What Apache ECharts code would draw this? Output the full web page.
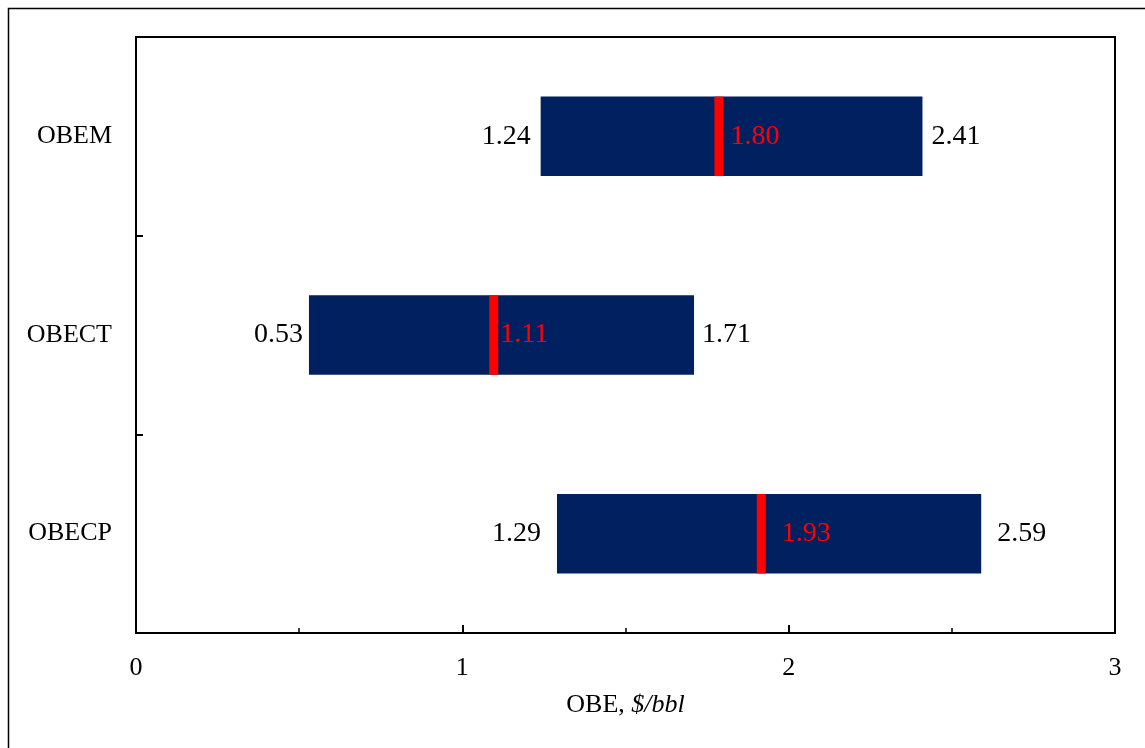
<!DOCTYPE html>
<html>
<head>
<meta charset="utf-8">
<script src="https://cdn.jsdelivr.net/npm/echarts@6/dist/echarts.min.js"></script>
<style>
html,body{margin:0;padding:0;background:#fff;}
#chart{width:1145px;height:748px;}
</style>
</head>
<body>
<div id="chart"></div>
<script>
const categories = ['OBEM', 'OBECT', 'OBECP'];
const minValues = [1.24, 0.53, 1.29];
const medianValues = [1.80, 1.11, 1.93];
const maxValues = [2.41, 1.71, 2.59];
const xTicks = [0, 1, 2, 3];

// label spacing (layout only, pixels)
const minLabelGap = [10, 6, 16];
const maxLabelGap = [9, 8, 16];
const medLabelGap = [7, 2, 16];

const FONT = '"Liberation Serif", "Times New Roman", serif';
const NAVY = '#002060';
const RED = '#FF0000';

const seriesData = categories.map((c, i) => [i, minValues[i], medianValues[i], maxValues[i]]);

const chart = echarts.init(document.getElementById('chart'), null, {renderer: 'canvas'});

chart.setOption({
  animation: false,
  backgroundColor: '#fff',
  graphic: [{
    type: 'rect', silent: true, z: 100,
    shape: {x: 8.5, y: 8.5, width: 1200, height: 800},
    style: {fill: 'none', stroke: '#000', lineWidth: 1.5}
  }],
  grid: {
    left: 136, right: 30, top: 37, bottom: 115,
    show: true, borderColor: '#000', borderWidth: 2, backgroundColor: 'transparent'
  },
  xAxis: {
    type: 'value', min: xTicks[0], max: xTicks[xTicks.length - 1], interval: 1,
    name: 'OBE, {i|$/bbl}', nameLocation: 'middle', nameGap: 59,
    nameTextStyle: {fontFamily: FONT, fontSize: 26, color: '#000',
      rich: {i: {fontFamily: FONT, fontSize: 26, fontStyle: 'italic', color: '#000'}}},
    axisLine: {show: true, lineStyle: {color: '#000', width: 2}},
    axisTick: {show: true, inside: true, length: 8, lineStyle: {color: '#000', width: 2}},
    minorTick: {show: true, splitNumber: 2, length: 5, lineStyle: {color: '#000', width: 1.5}},
    axisLabel: {fontFamily: FONT, fontSize: 26, color: '#000', margin: 22},
    splitLine: {show: false}
  },
  yAxis: {
    type: 'category', data: categories, inverse: true,
    axisLine: {show: true, lineStyle: {color: '#000', width: 2}},
    axisTick: {show: true, inside: true, length: 7, alignWithLabel: false, lineStyle: {color: '#000', width: 2}},
    axisLabel: {fontFamily: FONT, fontSize: 26, color: '#000', margin: 24},
    splitLine: {show: false}
  },
  series: [{
    type: 'custom',
    data: seriesData,
    encode: {x: [1, 2, 3], y: 0},
    renderItem: function (params, api) {
      const idx = api.value(0);
      const vMin = api.value(1), vMed = api.value(2), vMax = api.value(3);
      const pMin = api.coord([vMin, idx]);
      const pMed = api.coord([vMed, idx]);
      const pMax = api.coord([vMax, idx]);
      const h = api.size([0, 1])[1] * 0.4;
      const y = pMin[1] - h / 2;
      const txt = (x, align, text, color) => ({
        type: 'text',
        style: {x: x, y: pMin[1], text: text, align: align, verticalAlign: 'middle',
          font: '28px ' + FONT, fill: color}
      });
      return {
        type: 'group',
        children: [
          {type: 'rect', shape: {x: pMin[0], y: y, width: pMax[0] - pMin[0], height: h}, style: {fill: NAVY}},
          {type: 'rect', shape: {x: pMed[0] - 9, y: y, width: 9, height: h}, style: {fill: RED}},
          txt(pMin[0] - minLabelGap[idx], 'right', vMin.toFixed(2), '#000'),
          txt(pMax[0] + maxLabelGap[idx], 'left', vMax.toFixed(2), '#000'),
          txt(pMed[0] + medLabelGap[idx], 'left', vMed.toFixed(2), RED)
        ]
      };
    }
  }]
});
</script>
</body>
</html>
